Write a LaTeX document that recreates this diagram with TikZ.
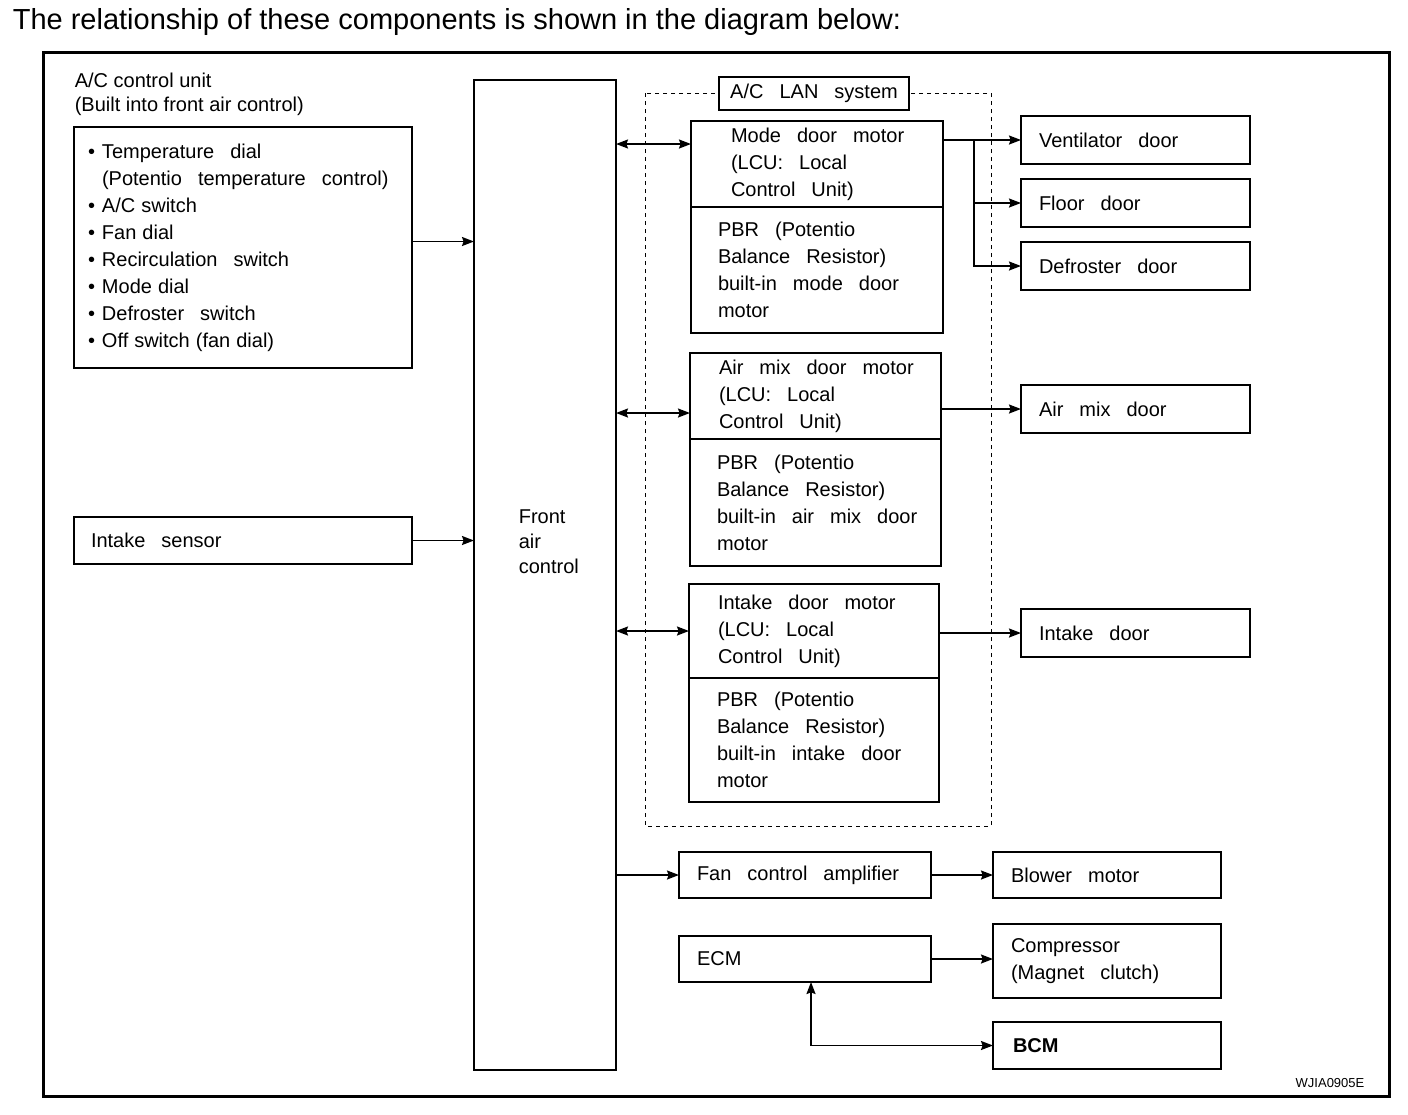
\documentclass[tikz,border=0pt]{standalone}
\usepackage{fontspec}
\setmainfont{Liberation Sans}
\usetikzlibrary{arrows.meta,positioning}

\newcommand\itm[1]{\mbox{\makebox[7pt][l]{\textbullet}#1}}
\newcommand\itn[1]{\mbox{\spaceskip=.3em\makebox[7pt][l]{\textbullet}#1}}
\newcommand\cont[1]{\mbox{\hspace*{7pt}#1}}

\tikzset{
  box/.style={draw,line width=1pt,rectangle,anchor=north west,outer sep=0pt,inner ysep=0pt,align=left,
    font=\fontsize{10}{13.5}\selectfont,
    execute at begin node={\spaceskip=.8em\relax\hyphenpenalty=10000\exhyphenpenalty=10000\hbadness=10000\hfuzz=50pt}},
  door/.style={box,minimum height=24pt,text width=96.5pt,inner xsep=9pt},
  lan/.style={line width=0.5pt,dash pattern=on 2pt off 2pt},
  plain/.style={inner sep=0pt,align=left,font=\fontsize{10}{12}\selectfont}
}

\begin{document}
\begin{tikzpicture}[x=0.5pt,y=-0.5pt,>={Stealth[length=6pt,width=4.5pt,inset=0.8pt]},line width=0.8pt]

\useasboundingbox (0,0) rectangle (1408,1114);

\node[plain,anchor=west,font=\fontsize{14.5}{17}\selectfont] (title) at (12,22) {The relationship of these components is shown in the diagram below:};
\draw[line width=1.5pt] (43,52) rectangle (1389,1096);

\node[plain,anchor=west] (unitlbl) at (74,94) {A/C control unit\\(Built into front air control)};
\node[box,text width=155pt,inner xsep=7pt,minimum height=120.5pt] (ctrl) at (74,127)
  {\itm{Temperature~dial}\\
   \cont{(Potentio~temperature~control)}\\
   \itn{A/C switch}\\
   \itn{Fan dial}\\
   \itm{Recirculation~switch}\\
   \itn{Mode dial}\\
   \itm{Defroster~switch}\\
   \itn{Off switch (fan dial)}};
\node[box,text width=152pt,inner xsep=8.5pt,minimum height=23.5pt] (sens) at (74,517) {Intake~sensor};

\node[box,minimum width=71pt,minimum height=495pt] (front) at (474,80) {};
\node[plain,anchor=west,font=\fontsize{10}{12.5}\selectfont] (frontlbl) at (518,542) {Front\\air\\control};

\draw[lan] (645,93) rectangle (991,826);
\node[box,fill=white,minimum width=95pt,minimum height=16.5pt,inner xsep=0pt,align=center] (lanlbl) at (719,77) {A/C~LAN~system};

\node[box,text width=86pt,inner xsep=20pt,minimum height=43pt] (mode) at (691,121) {Mode~door~motor\\(LCU:~Local\\Control~Unit)};
\node[box,text width=99pt,inner xsep=13.5pt,minimum height=63pt,below=0pt of mode] (modepbr) {PBR~(Potentio\\Balance~Resistor)\\built-in~mode~door\\motor};

\node[box,text width=96.5pt,inner xsep=14.5pt,minimum height=43pt] (air) at (690,353) {Air~mix~door~motor\\(LCU:~Local\\Control~Unit)};
\node[box,text width=98.5pt,inner xsep=13.5pt,minimum height=63.5pt,below=0pt of air] (airpbr) {PBR~(Potentio\\Balance~Resistor)\\built-in~air~mix~door\\motor};

\node[box,text width=96pt,inner xsep=14.5pt,minimum height=47pt] (intake) at (689,584) {Intake~door~motor\\(LCU:~Local\\Control~Unit)};
\node[box,text width=97pt,inner xsep=14pt,minimum height=62pt,below=0pt of intake] (intakepbr) {PBR~(Potentio\\Balance~Resistor)\\built-in~intake~door\\motor};

\node[door] (vent) at (1021,116) {Ventilator~door};
\node[door,below=7.5pt of vent] (floor) {Floor~door};
\node[door,below=7.5pt of floor] (defr) {Defroster~door};
\node[door] (airdoor) at (1021,385) {Air~mix~door};
\node[door] (indoor) at (1021,609) {Intake~door};

\node[box,text width=108pt,inner xsep=9pt,minimum height=23pt] (fan) at (679,852) {Fan~control~amplifier};
\node[box,text width=96pt,inner xsep=9pt,minimum height=23pt,right=31pt of fan] (blower) {Blower~motor};
\node[box,text width=108pt,inner xsep=9pt,minimum height=23pt,below=19pt of fan] (ecm) {ECM};
\node[box,text width=96pt,inner xsep=9pt,minimum height=37pt] (comp) at (993,924) {Compressor\\(Magnet~clutch)};
\node[box,text width=94pt,inner xsep=10pt,minimum height=23.5pt,font=\bfseries\fontsize{10}{13.5}\selectfont] (bcm) at (993,1022) {BCM};

\node[font=\fontsize{6.5}{8}\selectfont] (code) at (1330,1083) {WJIA0905E};

\coordinate (c1) at ([yshift=3pt]ctrl.east);
\coordinate (m1) at ([yshift=10pt]mode.west);
\coordinate (a1) at ([yshift=-8.5pt]air.west);
\path (vent -| mode.east) ++(31,0) coordinate (br);

\path[->] (c1) edge (c1 -| front.west)
          (sens.east) edge (sens -| front.west);
\path[<->] (m1 -| front.east) edge (m1)
           (a1 -| front.east) edge (a1)
           (intake.west -| front.east) edge (intake.west);
\path[->] (vent -| mode.east) edge (vent.west)
          (br |- floor) edge (floor.west)
          (airdoor -| air.east) edge (airdoor.west)
          (indoor -| intake.east) edge (indoor.west)
          (fan -| front.east) edge (fan.west)
          (fan.east) edge (blower.west)
          (ecm.east) edge (ecm -| comp.west);
\draw[->] (br) |- (defr.west);
\draw[<->] ([xshift=3pt]ecm.south) |- (bcm.west);

\end{tikzpicture}
\end{document}
